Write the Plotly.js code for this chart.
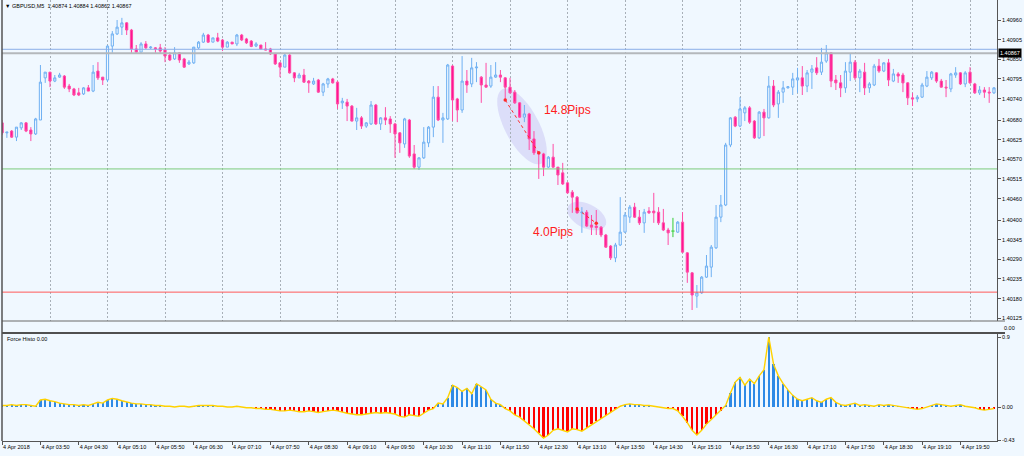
<!DOCTYPE html>
<html><head><meta charset="utf-8">
<script src="https://cdn.plot.ly/plotly-3.0.1.min.js"></script>
<style>html,body{margin:0;padding:0;background:#f0f8ff;}#chart{width:1024px;height:456px;}</style>
</head><body><div id="chart"></div>
<script>
// ---------------- DATA ----------------
const symbolName = "GBPUSD,M5";
const headerValues = ["1.40874", "1.40884", "1.40862", "1.40867"];
const indicatorName = "Force Histo 0.00";
const separatorLabel = "0.00";

const openP = [
1.40672,1.40644,1.40649,1.40632,1.40658,1.40672,1.40652,1.40641,
1.40680,1.40798,1.40814,1.40789,1.40800,1.40803,1.40775,1.40767,
1.40756,1.40753,1.40770,1.40761,1.40817,1.40800,1.40792,1.40887,
1.40921,1.40940,1.40952,1.40932,1.40879,1.40870,1.40893,1.40882,
1.40882,1.40882,1.40876,1.40862,1.40851,1.40868,1.40851,1.40837,
1.40840,1.40882,1.40898,1.40918,1.40898,1.40910,1.40904,1.40884,
1.40898,1.40893,1.40918,1.40907,1.40901,1.40887,1.40890,1.40879,
1.40879,1.40865,1.40840,1.40828,1.40862,1.40812,1.40798,1.40806,
1.40789,1.40781,1.40792,1.40758,1.40781,1.40795,1.40786,1.40728,
1.40730,1.40719,1.40677,1.40686,1.40663,1.40669,1.40722,1.40669,
1.40686,1.40683,1.40669,1.40644,1.40613,1.40680,1.40585,1.40548,
1.40574,1.40616,1.40660,1.40744,1.40680,1.40683,1.40831,1.40739,
1.40708,1.40789,1.40781,1.40826,1.40800,1.40778,1.40775,1.40800,
1.40806,1.40798,1.40772,1.40758,1.40728,1.40688,1.40697,1.40627,
1.40588,1.40585,1.40548,1.40576,1.40548,1.40532,1.40504,1.40478,
1.40464,1.40420,1.40422,1.40386,1.40383,1.40380,1.40358,1.40327,
1.40294,1.40330,1.40366,1.40408,1.40436,1.40408,1.40392,1.40425,
1.40425,1.40422,1.40392,1.40372,1.40369,1.40366,1.40394,1.40308,
1.40252,1.40187,1.40196,1.40240,1.40268,1.40322,1.40408,1.40442,
1.40610,1.40688,1.40663,1.40700,1.40714,1.40677,1.40630,1.40702,
1.40686,1.40775,1.40725,1.40758,1.40770,1.40772,1.40792,1.40798,
1.40775,1.40814,1.40826,1.40814,1.40845,1.40868,1.40792,1.40784,
1.40770,1.40814,1.40842,1.40798,1.40814,1.40770,1.40778,1.40831,
1.40817,1.40840,1.40789,1.40809,1.40806,1.40784,1.40742,1.40739,
1.40744,1.40775,1.40798,1.40812,1.40789,1.40772,1.40767,1.40806,
1.40812,1.40781,1.40814,1.40781,1.40756,1.40764,1.40758,1.40756
];
const highP = [
1.40680,1.40646,1.40652,1.40660,1.40674,1.40674,1.40660,1.40686,
1.40834,1.40814,1.40814,1.40806,1.40812,1.40806,1.40781,1.40770,
1.40770,1.40772,1.40778,1.40834,1.40842,1.40800,1.40890,1.40929,
1.40960,1.40966,1.40954,1.40935,1.40890,1.40898,1.40901,1.40887,
1.40884,1.40893,1.40884,1.40870,1.40884,1.40870,1.40854,1.40848,
1.40884,1.40901,1.40924,1.40921,1.40910,1.40924,1.40907,1.40901,
1.40898,1.40921,1.40921,1.40910,1.40904,1.40898,1.40890,1.40898,
1.40882,1.40868,1.40842,1.40865,1.40865,1.40814,1.40812,1.40823,
1.40792,1.40798,1.40795,1.40784,1.40798,1.40798,1.40789,1.40742,
1.40739,1.40722,1.40714,1.40691,1.40674,1.40733,1.40725,1.40688,
1.40716,1.40691,1.40672,1.40646,1.40686,1.40683,1.40610,1.40576,
1.40660,1.40663,1.40775,1.40775,1.40700,1.40837,1.40834,1.40742,
1.40859,1.40820,1.40854,1.40842,1.40803,1.40840,1.40834,1.40842,
1.40820,1.40800,1.40798,1.40764,1.40730,1.40722,1.40700,1.40649,
1.40590,1.40588,1.40579,1.40613,1.40548,1.40560,1.40506,1.40484,
1.40467,1.40436,1.40428,1.40414,1.40428,1.40383,1.40361,1.40330,
1.40336,1.40464,1.40422,1.40442,1.40448,1.40428,1.40431,1.40436,
1.40476,1.40436,1.40431,1.40378,1.40406,1.40397,1.40422,1.40310,
1.40254,1.40218,1.40243,1.40302,1.40330,1.40442,1.40470,1.40616,
1.40688,1.40691,1.40744,1.40719,1.40719,1.40680,1.40705,1.40711,
1.40803,1.40792,1.40764,1.40789,1.40775,1.40812,1.40826,1.40831,
1.40820,1.40834,1.40856,1.40882,1.40890,1.40870,1.40806,1.40806,
1.40842,1.40865,1.40848,1.40823,1.40840,1.40786,1.40837,1.40851,
1.40842,1.40851,1.40823,1.40814,1.40812,1.40786,1.40756,1.40750,
1.40784,1.40817,1.40817,1.40814,1.40795,1.40792,1.40812,1.40828,
1.40814,1.40817,1.40828,1.40784,1.40775,1.40772,1.40772,1.40772
];
const lowP = [
1.40638,1.40630,1.40630,1.40621,1.40652,1.40646,1.40621,1.40638,
1.40680,1.40784,1.40772,1.40786,1.40798,1.40767,1.40758,1.40747,
1.40747,1.40750,1.40761,1.40758,1.40792,1.40778,1.40786,1.40868,
1.40918,1.40918,1.40918,1.40868,1.40868,1.40868,1.40879,1.40879,
1.40868,1.40868,1.40842,1.40845,1.40848,1.40840,1.40826,1.40834,
1.40837,1.40879,1.40896,1.40896,1.40898,1.40898,1.40873,1.40884,
1.40893,1.40887,1.40901,1.40893,1.40884,1.40884,1.40877,1.40876,
1.40862,1.40834,1.40800,1.40828,1.40810,1.40786,1.40798,1.40784,
1.40756,1.40778,1.40756,1.40747,1.40770,1.40782,1.40711,1.40711,
1.40677,1.40676,1.40652,1.40655,1.40658,1.40666,1.40666,1.40652,
1.40666,1.40644,1.40574,1.40588,1.40602,1.40574,1.40543,1.40540,
1.40571,1.40604,1.40632,1.40677,1.40616,1.40680,1.40677,1.40674,
1.40700,1.40756,1.40772,1.40786,1.40728,1.40771,1.40770,1.40798,
1.40786,1.40736,1.40754,1.40725,1.40686,1.40674,1.40596,1.40582,
1.40515,1.40523,1.40546,1.40546,1.40498,1.40498,1.40473,1.40420,
1.40418,1.40364,1.40380,1.40358,1.40358,1.40352,1.40322,1.40288,
1.40282,1.40327,1.40364,1.40392,1.40406,1.40386,1.40364,1.40417,
1.40392,1.40386,1.40369,1.40330,1.40352,1.40364,1.40308,1.40224,
1.40148,1.40154,1.40193,1.40238,1.40240,1.40319,1.40394,1.40439,
1.40604,1.40660,1.40660,1.40677,1.40669,1.40627,1.40627,1.40635,
1.40684,1.40716,1.40686,1.40728,1.40768,1.40750,1.40756,1.40750,
1.40758,1.40767,1.40806,1.40806,1.40840,1.40772,1.40764,1.40744,
1.40756,1.40789,1.40792,1.40758,1.40750,1.40756,1.40775,1.40812,
1.40814,1.40775,1.40786,1.40784,1.40758,1.40722,1.40719,1.40730,
1.40742,1.40772,1.40792,1.40784,1.40771,1.40744,1.40758,1.40798,
1.40778,1.40772,1.40781,1.40753,1.40750,1.40742,1.40728,1.40753
];
const closeP = [
1.40644,1.40646,1.40632,1.40660,1.40672,1.40649,1.40641,1.40683,
1.40786,1.40814,1.40789,1.40798,1.40806,1.40772,1.40767,1.40750,
1.40750,1.40770,1.40761,1.40814,1.40798,1.40792,1.40887,1.40921,
1.40940,1.40952,1.40932,1.40879,1.40870,1.40893,1.40882,1.40884,
1.40879,1.40873,1.40859,1.40848,1.40868,1.40848,1.40828,1.40842,
1.40884,1.40898,1.40918,1.40898,1.40910,1.40901,1.40884,1.40898,
1.40893,1.40918,1.40904,1.40896,1.40886,1.40893,1.40879,1.40876,
1.40865,1.40837,1.40828,1.40862,1.40812,1.40798,1.40806,1.40786,
1.40784,1.40789,1.40758,1.40781,1.40795,1.40784,1.40725,1.40733,
1.40719,1.40677,1.40686,1.40663,1.40672,1.40722,1.40669,1.40686,
1.40680,1.40669,1.40641,1.40616,1.40683,1.40579,1.40548,1.40574,
1.40618,1.40660,1.40744,1.40680,1.40686,1.40834,1.40736,1.40708,
1.40789,1.40778,1.40826,1.40828,1.40778,1.40772,1.40800,1.40806,
1.40800,1.40772,1.40756,1.40728,1.40688,1.40697,1.40627,1.40588,
1.40585,1.40548,1.40576,1.40548,1.40526,1.40501,1.40476,1.40464,
1.40420,1.40422,1.40383,1.40380,1.40379,1.40358,1.40324,1.40294,
1.40330,1.40366,1.40414,1.40436,1.40408,1.40392,1.40422,1.40420,
1.40420,1.40392,1.40372,1.40364,1.40369,1.40394,1.40310,1.40254,
1.40190,1.40196,1.40240,1.40271,1.40324,1.40408,1.40442,1.40610,
1.40686,1.40663,1.40711,1.40714,1.40674,1.40630,1.40702,1.40686,
1.40775,1.40722,1.40758,1.40770,1.40773,1.40795,1.40798,1.40775,
1.40812,1.40823,1.40812,1.40842,1.40868,1.40789,1.40784,1.40770,
1.40817,1.40842,1.40798,1.40817,1.40770,1.40781,1.40831,1.40817,
1.40840,1.40792,1.40809,1.40803,1.40784,1.40742,1.40739,1.40744,
1.40778,1.40800,1.40814,1.40789,1.40772,1.40770,1.40809,1.40812,
1.40781,1.40812,1.40784,1.40756,1.40764,1.40758,1.40756,1.40770
];
const forceHisto = [
0.02,0.02,0.03,0.02,0.03,0.03,0.02,0.01,
0.09,0.10,0.08,0.07,0.05,0.04,0.03,0.03,
0.02,0.03,0.02,0.04,0.06,0.05,0.09,0.11,
0.10,0.08,0.06,0.05,0.04,0.04,0.03,0.03,
0.02,0.02,0.01,0.01,0.00,0.01,0.01,0.00,
0.01,0.02,0.02,0.02,0.02,0.01,0.01,0.00,
0.00,0.01,0.00,-0.01,-0.01,-0.02,-0.02,-0.03,
-0.03,-0.04,-0.05,-0.05,-0.04,-0.05,-0.06,-0.06,
-0.05,-0.06,-0.07,-0.06,-0.05,-0.04,-0.05,-0.07,
-0.08,-0.09,-0.10,-0.10,-0.09,-0.08,-0.07,-0.08,
-0.07,-0.08,-0.09,-0.12,-0.13,-0.10,-0.11,-0.12,
-0.08,-0.04,-0.02,0.05,0.04,0.12,0.28,0.25,
0.20,0.24,0.17,0.30,0.26,0.22,0.10,0.05,
0.03,-0.02,-0.05,-0.10,-0.13,-0.18,-0.22,-0.28,
-0.34,-0.40,-0.36,-0.30,-0.28,-0.30,-0.32,-0.28,
-0.29,-0.31,-0.27,-0.22,-0.18,-0.15,-0.10,-0.06,
-0.03,0.01,0.03,0.04,0.03,0.03,0.02,0.02,
0.01,0.00,-0.01,-0.02,-0.02,-0.05,-0.12,-0.20,
-0.30,-0.36,-0.30,-0.22,-0.16,-0.10,-0.05,0.02,
0.18,0.32,0.38,0.28,0.36,0.30,0.40,0.48,
0.90,0.55,0.40,0.30,0.22,0.15,0.10,0.08,
0.10,0.12,0.08,0.06,0.10,0.12,0.06,0.03,
0.02,0.04,0.05,0.02,0.03,0.02,0.01,0.03,
0.02,0.03,0.02,0.01,0.00,-0.01,-0.02,-0.03,
-0.02,0.00,0.02,0.04,0.03,0.02,0.01,0.02,
0.03,0.01,0.00,-0.01,-0.03,-0.04,-0.03,-0.02
];
const timeLabels = ["4 Apr 2018","4 Apr 03:50","4 Apr 04:30","4 Apr 05:10","4 Apr 05:50","4 Apr 06:30",
  "4 Apr 07:10","4 Apr 07:50","4 Apr 08:30","4 Apr 09:10","4 Apr 09:50","4 Apr 10:30","4 Apr 11:10",
  "4 Apr 11:50","4 Apr 12:30","4 Apr 13:10","4 Apr 13:50","4 Apr 14:30","4 Apr 15:10","4 Apr 15:50",
  "4 Apr 16:30","4 Apr 17:10","4 Apr 17:50","4 Apr 18:30","4 Apr 19:10","4 Apr 19:50"];
const priceTickLabels = ["1.40960","1.40905","1.40850","1.40795","1.40740","1.40680","1.40625","1.40570",
  "1.40515","1.40460","1.40400","1.40345","1.40290","1.40235","1.40180","1.40125"];
const forceTickLabels = ["0.9","0.00","-0.43"];
const levelPrices = [1.40878, 1.40543, 1.40198];
const bidPrice = 1.40867;
const measureFromBar = [105, 120];
const measureFromPrice = [1.40736, 1.40431];
const measureToBar = [112, 124];
const measureToPrice = [1.40588, 1.40391];

// ---------------- STYLE ----------------
const BG = '#f0f8ff';
const W = 1024, H = 456;
const M = {l: 2, r: 27, t: 0, b: 15};
const plotH = H - M.t - M.b;           // 441
const mainBottomPx = 321, subTopPx = 334;
const xRange = [-0.02, 207.63];
const yRange = [1.401172, 1.41016];
const fRange = [-0.437, 0.9386];
const barsPerLabel = 8, firstHourBar = 10, barsPerHour = 12;
const levelColors = ['#8aaee8', '#7ccc7c', '#ff5a5a'];
const ellipseStyle = [{a: 42, b: 17, ang: 62}, {a: 21, b: 12, ang: 27}];
const labelBar = [118, 115];
const labelPrice = [1.40708, 1.40366];
const smallFont = {family: 'Liberation Sans, Arial, sans-serif', size: 5.5, color: '#000'};

// ---------------- BUILD ----------------
const n = openP.length;
const idx = openP.map((_, i) => i);
const cI = idx.filter(i => openP[i] !== closeP[i]);
const dI = idx.filter(i => openP[i] === closeP[i]);

const mainDomain = [(plotH - mainBottomPx) / plotH, 1];
const subDomain = [0, (plotH - subTopPx) / plotH];
const plotW = W - M.l - M.r;
const pxPerBar = plotW / (xRange[1] - xRange[0]);
const pricePerPx = (yRange[1] - yRange[0]) / (mainBottomPx);

const traces = [];
traces.push({
  type: 'candlestick', xaxis: 'x', yaxis: 'y',
  x: cI, open: cI.map(i => openP[i]), high: cI.map(i => highP[i]),
  low: cI.map(i => lowP[i]), close: cI.map(i => closeP[i]),
  increasing: {line: {color: '#6fb0f2', width: 1}, fillcolor: BG},
  decreasing: {line: {color: '#ff4da6', width: 1}, fillcolor: '#ff1493'},
  whiskerwidth: 0, hoverinfo: 'skip', showlegend: false
});
const dx = [], dy = [];
dI.forEach(i => { dx.push(i, i, null, i - 0.35, i + 0.35, null); dy.push(lowP[i], highP[i], null, openP[i], openP[i], null); });
traces.push({type: 'scatter', mode: 'lines', x: dx, y: dy, xaxis: 'x', yaxis: 'y',
  line: {color: '#32cd32', width: 1}, hoverinfo: 'skip', showlegend: false});

for (let k = 0; k < measureFromBar.length; k++) {
  traces.push({type: 'scatter', mode: 'lines+markers', xaxis: 'x', yaxis: 'y',
    x: [measureFromBar[k], measureToBar[k]], y: [measureFromPrice[k], measureToPrice[k]],
    line: {color: '#ff2a2a', width: 1, dash: 'dot'}, marker: {color: '#ff2a2a', size: 3.5},
    hoverinfo: 'skip', showlegend: false});
}

traces.push({type: 'bar', xaxis: 'x2', yaxis: 'y2', x: idx, y: forceHisto, width: 0.45,
  marker: {color: forceHisto.map(v => v >= 0 ? '#2e8ae6' : '#ff0000'), line: {width: 0}},
  hoverinfo: 'skip', showlegend: false});
traces.push({type: 'scatter', mode: 'lines', xaxis: 'x2', yaxis: 'y2', x: idx, y: forceHisto,
  line: {color: '#ffd200', width: 1.4}, hoverinfo: 'skip', showlegend: false});

const shapes = [];
for (let k = 0; k < measureFromBar.length; k++) {
  const cx = (measureFromBar[k] + measureToBar[k]) / 2;
  const cy = (measureFromPrice[k] + measureToPrice[k]) / 2;
  const e = ellipseStyle[k], th = e.ang * Math.PI / 180;
  let p = '';
  for (let s = 0; s <= 48; s++) {
    const t = s / 48 * 2 * Math.PI;
    const ox = e.a * Math.cos(t) * Math.cos(th) - e.b * Math.sin(t) * Math.sin(th);
    const oy = e.a * Math.cos(t) * Math.sin(th) + e.b * Math.sin(t) * Math.cos(th);
    p += (s ? ' L ' : 'M ') + (cx + ox / pxPerBar) + ',' + (cy - oy * pricePerPx);
  }
  shapes.push({type: 'path', path: p + ' Z', xref: 'x', yref: 'y', fillcolor: 'rgba(178,168,236,0.32)',
    line: {width: 0}, layer: 'below'});
}
levelPrices.forEach((v, k) => shapes.push({type: 'line', xref: 'x domain', yref: 'y', x0: 0, x1: 1, y0: v, y1: v,
  line: {color: levelColors[k], width: 1}}));
shapes.push({type: 'line', xref: 'x domain', yref: 'y', x0: 0, x1: 1, y0: bidPrice, y1: bidPrice,
  line: {color: '#b4b8bc', width: 2}});
const sepY1 = (plotH - mainBottomPx) / plotH, sepY2 = (plotH - 333) / plotH;
const ext = 1 + 8 / plotW;
shapes.push({type: 'line', xref: 'paper', yref: 'paper', x0: 0, x1: ext, y0: sepY1, y1: sepY1, line: {color: '#6a6a6a', width: 1.2}});
shapes.push({type: 'line', xref: 'paper', yref: 'paper', x0: 0, x1: ext, y0: sepY2, y1: sepY2, line: {color: '#505050', width: 2}});
shapes.push({type: 'line', xref: 'paper', yref: 'paper', x0: 0, x1: 0, y0: 0, y1: 1, line: {color: '#555', width: 1.5}});

const annotations = [];
annotations.push({xref: 'paper', yref: 'paper', x: 0.001, y: 1 - 6 / plotH, xanchor: 'left', yanchor: 'middle',
  text: '\u25BC ' + symbolName + '  ' + headerValues.join(' '), showarrow: false, font: smallFont});
annotations.push({xref: 'paper', yref: 'paper', x: 0.003, y: (plotH - 339) / plotH, xanchor: 'left', yanchor: 'middle',
  text: indicatorName, showarrow: false, font: smallFont});
annotations.push({xref: 'paper', yref: 'paper', x: 1, xshift: 5, y: (plotH - 328) / plotH, xanchor: 'left', yanchor: 'middle',
  text: separatorLabel, showarrow: false, font: smallFont});
annotations.push({xref: 'paper', yref: 'y', x: 1, xshift: 1, y: bidPrice, xanchor: 'left', yanchor: 'middle',
  text: bidPrice.toFixed(5), showarrow: false, bgcolor: '#000', borderpad: 1,
  font: {family: smallFont.family, size: 5.5, color: '#fff'}});
for (let k = 0; k < measureFromBar.length; k++) {
  const pips = ((measureFromPrice[k] - measureToPrice[k]) * 10000).toFixed(1) + 'Pips';
  annotations.push({xref: 'x', yref: 'y', x: labelBar[k], y: labelPrice[k], text: pips, showarrow: false,
    font: {family: 'Liberation Sans, Arial, sans-serif', size: 12, color: '#ff2020'}});
}
if ([highP, lowP, closeP, forceHisto].some(a => a.length !== n)) {
  annotations.push({xref: 'paper', yref: 'paper', x: 0.5, y: 0.5, text: 'LEN MISMATCH', showarrow: false, font: {size: 20, color: 'red'}});
}

const hourBars = [];
for (let b = firstHourBar; b < n; b += barsPerHour) hourBars.push(b);
const labelBars = timeLabels.map((_, k) => k * barsPerLabel);

const layout = {
  width: W, height: H, margin: M, paper_bgcolor: BG, plot_bgcolor: BG, showlegend: false,
  hovermode: false, boxgap: 0.35, bargap: 0,
  xaxis: {domain: [0, 1], range: xRange, anchor: 'y', tickvals: hourBars, showticklabels: false, ticks: '',
    showgrid: true, gridcolor: '#a8b0b8', griddash: '2px,2px', gridwidth: 1, zeroline: false, showline: false,
    rangeslider: {visible: false}, fixedrange: true},
  yaxis: {domain: mainDomain, range: yRange, anchor: 'x', side: 'right',
    tickvals: priceTickLabels.map(Number), ticktext: priceTickLabels, ticks: 'outside', ticklen: 3,
    tickcolor: '#555', tickfont: smallFont, showgrid: false, zeroline: false, showline: true,
    linecolor: '#555', linewidth: 1, fixedrange: true},
  xaxis2: {domain: [0, 1], range: xRange, anchor: 'y2', tickvals: labelBars, ticktext: timeLabels,
    ticks: 'outside', ticklen: 3, tickcolor: '#555', ticklabelposition: 'outside right', tickfont: smallFont,
    showgrid: false, zeroline: false, showline: true, linecolor: '#555', linewidth: 1, fixedrange: true},
  yaxis2: {domain: subDomain, range: fRange, anchor: 'x2', side: 'right',
    tickvals: forceTickLabels.map(Number), ticktext: forceTickLabels, ticks: 'outside', ticklen: 3,
    tickcolor: '#555', tickfont: smallFont, showgrid: false, zeroline: false, showline: true,
    linecolor: '#555', linewidth: 1, fixedrange: true},
  shapes: shapes, annotations: annotations
};
Plotly.newPlot('chart', traces, layout, {staticPlot: true, displayModeBar: false});
</script></body></html>
